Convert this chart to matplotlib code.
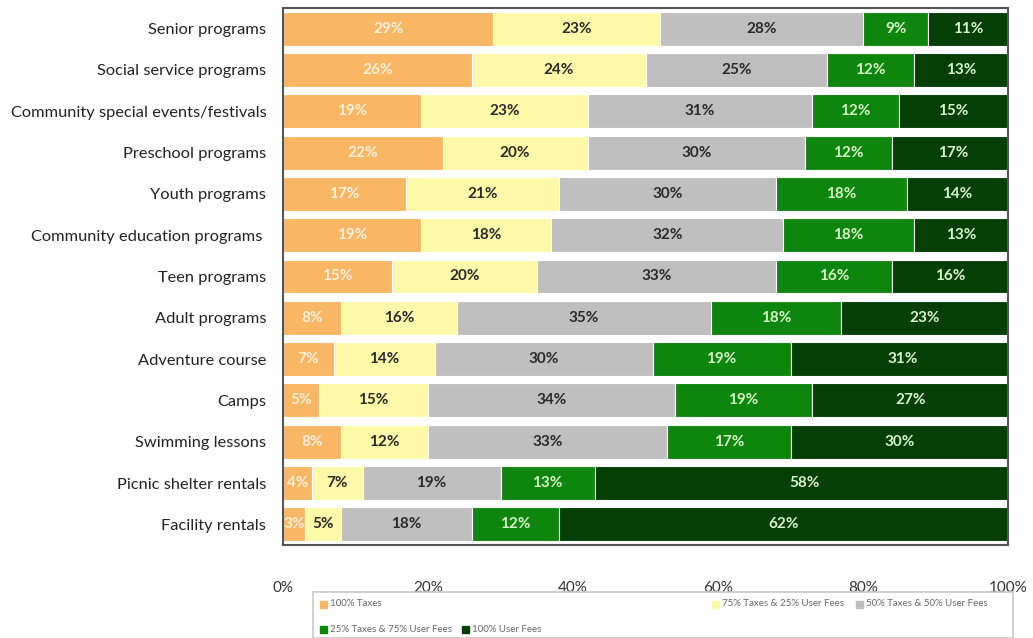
import matplotlib.pyplot as plt
from matplotlib.patches import Rectangle
import numpy as np

plt.rcParams['font.family'] = ['Lato', 'DejaVu Sans']

programs = ["Senior programs", "Social service programs",
            "Community special events/festivals", "Preschool programs",
            "Youth programs", "Community education programs ",
            "Teen programs", "Adult programs", "Adventure course", "Camps",
            "Swimming lessons", "Picnic shelter rentals", "Facility rentals"]

taxes_100 = [29, 26, 19, 22, 17, 19, 15, 8, 7, 5, 8, 4, 3]
taxes_75 = [23, 24, 23, 20, 21, 18, 20, 16, 14, 15, 12, 7, 5]
taxes_50 = [28, 25, 31, 30, 30, 32, 33, 35, 30, 34, 33, 19, 18]
taxes_25 = [9, 12, 12, 12, 18, 18, 16, 18, 19, 19, 17, 13, 12]
fees_100 = [11, 13, 15, 17, 14, 13, 16, 23, 31, 27, 30, 58, 62]

series_names = ["100% Taxes", "75% Taxes & 25% User Fees",
                "50% Taxes & 50% User Fees", "25% Taxes & 75% User Fees",
                "100% User Fees"]
colors = ["#F9B664", "#FEF9A8", "#BFBFBF", "#0E860E", "#053F05"]
text_colors = ["#FFF0DC", "#2A2A2A", "#2A2A2A", "#D8F5C8", "#D8F5C8"]

series = [taxes_100, taxes_75, taxes_50, taxes_25, fees_100]

fig = plt.figure(figsize=(10.33, 6.38), dpi=100)
ax = fig.add_axes([283 / 1033, 1 - 545 / 638, 725 / 1033, 537 / 638])

y = np.arange(len(programs))
left = np.zeros(len(programs))
for vals, name, col, tcol in zip(series, series_names, colors, text_colors):
    vals = np.array(vals, dtype=float)
    # stacked to a 100% total per row
    bars = ax.barh(y, vals, left=left, height=0.82, color=col,
                   edgecolor="white", linewidth=0.8, label=name)
    for b, v in zip(bars, vals):
        ax.text(b.get_x() + b.get_width() / 2, b.get_y() + b.get_height() / 2,
                f"{v:.0f}%", ha="center", va="center", color=tcol,
                fontsize=11, fontweight="bold")
    left += vals

ax.set_xlim(0, 100)
ax.set_ylim(len(programs) - 0.5, -0.5)
ax.set_yticks(y)
ax.set_yticklabels(programs, fontsize=11.8, color="#222222")
ax.set_xticks([0, 20, 40, 60, 80, 100])
ax.set_xticklabels(["0%", "20%", "40%", "60%", "80%", "100%"],
                   fontsize=11, color="#333333")
ax.tick_params(axis="both", length=0)
ax.tick_params(axis="x", pad=26)
ax.tick_params(axis="y", pad=12)
for s in ax.spines.values():
    s.set_color("#555555")
    s.set_linewidth(1.5)

# legend box with two rows of entries
W, H = 1033, 638
fig.patches.append(Rectangle((313 / W, 0), 700 / W, (638 - 592) / H,
                             transform=fig.transFigure, fill=False,
                             edgecolor="#C8C8C8", linewidth=1.2))
entries = [(320, 604), (712, 604), (856, 604), (320, 629), (462, 629)]
for (px, py), name, col in zip(entries, series_names, colors):
    fig.patches.append(Rectangle((px / W, 1 - (py + 4) / H), 7 / W, 7 / H,
                                 transform=fig.transFigure, color=col))
    fig.text((px + 10) / W, 1 - py / H, name, fontsize=7,
             color="#666666", va="center", ha="left")

fig.savefig("out.png", dpi=100)
